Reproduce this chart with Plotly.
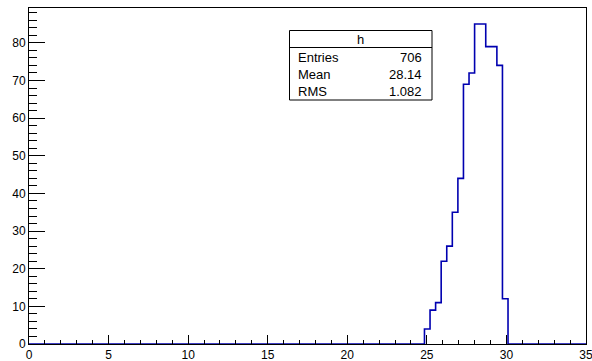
import plotly.graph_objects as go

# ---- data ----
bin_width = 0.35
first_edge = 24.85
counts = [4, 9, 11, 22, 26, 35, 44, 69, 72, 85, 85, 79, 79, 74, 12]
x_range = [0, 35]
y_max = 89.25
stats_title = "h"
stats_labels = ["Entries", "Mean", "RMS"]
stats_values = ["706", "28.14", "1.082"]

# ---- build step outline ----
edges = [first_edge + i * bin_width for i in range(len(counts) + 1)]
xs = [x_range[0], edges[0]]
ys = [0, 0]
for i, c in enumerate(counts):
    xs += [edges[i], edges[i + 1]]
    ys += [c, c]
xs += [edges[-1], x_range[1]]
ys += [0, 0]

W, H = 592, 361
L, R, T, B = 29, 6, 8, 17
pw, ph = W - L - R, H - T - B


def px(x):
    return (x - L) / pw


def py(y):
    return (H - B - y) / ph


font = "Liberation Sans, Arial, Helvetica, sans-serif"

fig = go.Figure()
fig.add_trace(go.Scatter(x=xs, y=ys, mode="lines", line=dict(color="#0000b0", width=1.6),
                         hoverinfo="skip", showlegend=False))

fig.update_layout(
    width=W, height=H, margin=dict(l=L, r=R, t=T, b=B, autoexpand=False),
    paper_bgcolor="white", plot_bgcolor="white",
    font=dict(family=font, size=12, color="black"),
    xaxis=dict(range=x_range, dtick=5, tick0=0, ticks="inside", ticklen=9, tickcolor="black",
               showline=True, linecolor="black", linewidth=1, mirror=True, showgrid=False,
               zeroline=False, tickfont=dict(size=12), automargin=False, ticklabeloverflow="allow",
               minor=dict(dtick=1, ticks="inside", ticklen=4, tickcolor="black", showgrid=False)),
    yaxis=dict(range=[0, y_max], dtick=10, tick0=0, ticks="inside", ticklen=16, tickcolor="black",
               showline=True, linecolor="black", linewidth=1, mirror=True, showgrid=False,
               zeroline=False, tickfont=dict(size=12), automargin=False, ticklabeloverflow="allow",
               minor=dict(dtick=2, ticks="inside", ticklen=8, tickcolor="black", showgrid=False)),
)

# stats box
bx0, bx1, by0, by1, bsep = 289.5, 432, 30.5, 100, 47.5
fig.add_shape(type="rect", xref="paper", yref="paper", x0=px(bx0), x1=px(bx1), y0=py(by1), y1=py(by0),
              line=dict(color="black", width=1), fillcolor="white", layer="above")
fig.add_shape(type="line", xref="paper", yref="paper", x0=px(bx0), x1=px(bx1), y0=py(bsep), y1=py(bsep),
              line=dict(color="black", width=1), layer="above")
fig.add_annotation(xref="paper", yref="paper", x=px((bx0 + bx1) / 2), y=py(39.5), text=stats_title,
                   showarrow=False, xanchor="center", yanchor="middle", font=dict(size=13))
rows_y = [57, 74.5, 91]
for lab, val, yy in zip(stats_labels, stats_values, rows_y):
    fig.add_annotation(xref="paper", yref="paper", x=px(296), y=py(yy), text=lab, showarrow=False,
                       xanchor="left", yanchor="middle", font=dict(size=13))
    fig.add_annotation(xref="paper", yref="paper", x=px(424), y=py(yy), text=val, showarrow=False,
                       xanchor="right", yanchor="middle", font=dict(size=13))

fig.write_html("out.html", config={"displayModeBar": False, "staticPlot": True},
               post_script="document.body.style.margin='0px';document.body.style.overflow='hidden';")
